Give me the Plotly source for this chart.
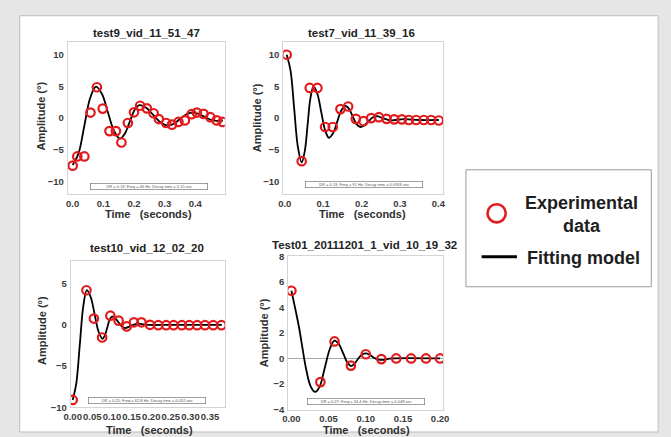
import plotly.graph_objects as go

W, H = 671, 437

# ---- test9_vid_11_51_47 ----
t9_time = [0.0, 0.015, 0.038, 0.058, 0.079, 0.098, 0.12, 0.141, 0.159, 0.18, 0.2, 0.22,
           0.242, 0.264, 0.281, 0.305, 0.324, 0.345, 0.366, 0.388, 0.405, 0.427, 0.449,
           0.47, 0.489]
t9_amp = [-7.5, -6.05, -6.05, 0.87, 4.87, 1.5, -2.05, -2.05, -3.85, -0.77, 0.92, 1.95,
          1.54, 0.77, -0.15, -0.77, -1.03, -0.6, -0.36, 0.62, 0.87, 0.67, 0.15, -0.36, -0.6]
t9_fit_time = [0.0, 0.019, 0.038, 0.057, 0.076, 0.096, 0.115, 0.135, 0.154, 0.17, 0.186,
               0.202, 0.218, 0.241, 0.264, 0.287, 0.31, 0.33, 0.35, 0.37, 0.39, 0.41, 0.43,
               0.45, 0.47, 0.49]
t9_fit_amp = [-7.4, -5.57, -1.2, 3.17, 4.97, 3.77, 0.87, -2.03, -3.23, -2.46, -0.59, 1.28,
              2.05, 1.58, 0.43, -0.71, -1.18, -0.88, -0.15, 0.57, 0.87, 0.68, 0.21, -0.26,
              -0.45, -0.38]

# ---- test7_vid_11_39_16 ----
t7_time = [0.005, 0.044, 0.065, 0.085, 0.105, 0.125, 0.145, 0.165, 0.185, 0.205, 0.225,
           0.245, 0.265, 0.285, 0.305, 0.323, 0.342, 0.362, 0.381, 0.401]
t7_amp = [10.0, -6.8, 4.76, 4.76, -1.4, -1.4, 1.42, 1.83, -0.12, -0.48, 0.0, 0.15, -0.12,
          -0.2, -0.2, -0.3, -0.3, -0.3, -0.3, -0.38]
t7_fit_time = [0.005, 0.015, 0.0245, 0.034, 0.044, 0.052, 0.0595, 0.067, 0.075, 0.085,
               0.095, 0.105, 0.115, 0.126, 0.1365, 0.147, 0.158, 0.1675, 0.177, 0.1865,
               0.196, 0.207, 0.2175, 0.228, 0.239, 0.257, 0.275, 0.31, 0.35, 0.401]
t7_fit_amp = [10.0, 7.5, 1.5, -4.5, -7.0, -5.24, -1.0, 3.24, 5.0, 3.81, 0.95, -1.91, -3.1,
              -2.36, -0.59, 1.19, 1.93, 1.44, 0.27, -0.91, -1.4, -1.15, -0.55, 0.05, 0.3,
              -0.05, -0.35, -0.15, -0.3, -0.3]

# ---- test10_vid_12_02_20 ----
t10_time = [0.0, 0.035, 0.054, 0.075, 0.096, 0.117, 0.1375, 0.156, 0.175, 0.197, 0.218,
            0.238, 0.257, 0.278, 0.297, 0.317, 0.337, 0.358, 0.379]
t10_amp = [-9.1, 4.18, 0.75, -1.54, 1.1, 0.5, -0.2, 0.3, 0.3, 0.0, -0.05, -0.05, -0.05,
           -0.05, -0.05, -0.05, -0.05, -0.05, -0.05]
t10_fit_time = [0.0, 0.009, 0.018, 0.027, 0.036, 0.046, 0.056, 0.066, 0.076, 0.082, 0.088,
                0.094, 0.1, 0.108, 0.1165, 0.125, 0.133, 0.148, 0.163, 0.195, 0.25, 0.38]
t10_fit_amp = [-9.1, -7.15, -2.45, 2.25, 4.2, 3.34, 1.25, -0.84, -1.7, -1.3, -0.35, 0.6, 1.0,
               0.8, 0.3, -0.2, -0.4, -0.14, 0.12, -0.02, 0.0, 0.0]

# ---- Test01_20111201_1_vid_10_19_32 ----
t01_time = [0.0, 0.039, 0.058, 0.08, 0.1, 0.121, 0.141, 0.161, 0.181, 0.2]
t01_amp = [5.3, -1.85, 1.33, -0.56, 0.33, -0.05, 0.0, 0.0, 0.0, 0.0]
t01_fit_time = [0.0, 0.01, 0.02, 0.026, 0.032, 0.038, 0.045, 0.052, 0.058, 0.064, 0.07,
                0.075, 0.08, 0.085, 0.09, 0.095, 0.1, 0.105, 0.11, 0.117, 0.125, 0.135, 0.2]
t01_fit_amp = [5.3, 2.5, -0.9, -2.2, -2.62, -2.2, -0.7, 0.8, 1.4, 1.1, 0.35, -0.3, -0.6,
               -0.4, 0.0, 0.3, 0.4, 0.3, 0.1, -0.1, -0.1, 0.0, 0.0]

titles = ["test9_vid_11_51_47", "test7_vid_11_39_16", "test10_vid_12_02_20",
          "Test01_20111201_1_vid_10_19_32"]
fit_notes = ["DR = 0.13; Freq = 46 Hz; Decay time = 0.15 sec",
             "DR = 0.13; Freq = 91 Hz; Decay time = 0.0918 sec",
             "DR = 0.25; Freq = 62.8 Hz; Decay time = 0.052 sec",
             "DR = 0.27; Freq = 34.4 Hz; Decay time = 0.048 sec"]
legend_labels = ["Experimental<br>data", "Fitting model"]

RED = "#e31a1c"
FONT = "Liberation Sans"


def fx(px):
    return px / W


def fy(py):
    return 1 - py / H


# plot-area boxes in pixels: (left, right, top, bottom)
panels = [
    dict(box=(62, 222, 37, 193), xr=[-0.016, 0.496], yr=[-12, 12], xt=[0, 0.1, 0.2, 0.3, 0.4],
         xfmt=".1f", yt=[-10, -5, 0, 5, 10], zero=False,
         data=(t9_time, t9_amp, t9_fit_time, t9_fit_amp),
         title=(142.7, 28), xtitle=(144, 213), ytitle=(35, 113), note=(145, 185)),
    dict(box=(281.7, 445, 37, 193), xr=[-0.004, 0.413], yr=[-12, 12], xt=[0, 0.1, 0.2, 0.3, 0.4],
         xfmt=".1f", yt=[-10, -5, 0, 5, 10], zero=False,
         data=(t7_time, t7_amp, t7_fit_time, t7_fit_amp),
         title=(361.7, 28), xtitle=(363, 213), ytitle=(255, 115), note=(364.5, 183.5)),
    dict(box=(65, 222.7, 261.8, 411.7), xr=[-0.005, 0.389], yr=[-10, 7.7],
         xt=[0, 0.05, 0.1, 0.15, 0.2, 0.25, 0.3, 0.35], xfmt=".2f", yt=[-10, -5, 0, 5], zero=False,
         data=(t10_time, t10_amp, t10_fit_time, t10_fit_amp),
         title=(142.5, 248), xtitle=(145, 435), ytitle=(35, 333), note=(143, 405)),
    dict(box=(286.7, 445, 256.7, 414), xr=[-0.0044, 0.2044], yr=[-4, 8],
         xt=[0, 0.05, 0.1, 0.15, 0.2], xfmt=".2f", yt=[-4, -2, 0, 2, 4, 6, 8], zero=True,
         data=(t01_time, t01_amp, t01_fit_time, t01_fit_amp),
         title=(365, 245), xtitle=(367, 435), ytitle=(261.7, 335), note=(366, 406)),
]

fig = go.Figure()
annotations = []
shapes = [
    # white sheet on a grey page
    dict(type="rect", xref="paper", yref="paper", x0=fx(13), x1=fx(664), y0=fy(437), y1=fy(10),
         fillcolor="white", line=dict(color="#bdbdbd", width=1), layer="below"),
]
layout_axes = {}

for i, p in enumerate(panels):
    n = i + 1
    xa = "x" if n == 1 else f"x{n}"
    ya = "y" if n == 1 else f"y{n}"
    l, r, t, b = p["box"]
    tx, ty, ftx, fty = p["data"]

    fig.add_trace(go.Scatter(x=ftx, y=fty, mode="lines", line=dict(color="black", width=1.8,
                                                                    shape="spline", smoothing=1.0),
                             xaxis=xa, yaxis=ya, showlegend=False, hoverinfo="skip"))
    fig.add_trace(go.Scatter(x=tx, y=ty, mode="markers",
                             marker=dict(symbol="circle-open", size=8.5, color=RED,
                                         line=dict(width=2.2, color=RED)),
                             xaxis=xa, yaxis=ya, showlegend=False))

    tick_font = dict(family=FONT, size=9.5, color="#3a3a3a", weight="bold")
    layout_axes["xaxis" if n == 1 else f"xaxis{n}"] = dict(
        domain=[fx(l), fx(r)], anchor=ya, range=p["xr"], tickvals=p["xt"], tickformat=p["xfmt"],
        tickangle=0, showgrid=False, zeroline=False, showline=True, mirror=True,
        linecolor="#d4d4d4", linewidth=1, ticks="", tickfont=tick_font, ticklabelstandoff=0)
    layout_axes["yaxis" if n == 1 else f"yaxis{n}"] = dict(
        domain=[fy(b), fy(t)], anchor=xa, range=p["yr"], tickvals=p["yt"],
        showgrid=False, zeroline=p["zero"], zerolinecolor="#a8a8a8", zerolinewidth=0.8,
        showline=True, mirror=True, linecolor="#d4d4d4", linewidth=1, ticks="",
        tickfont=tick_font, ticklabelstandoff=1)

    annotations.append(dict(x=fx(p["title"][0]), y=fy(p["title"][1]), xref="paper", yref="paper",
                            text=titles[i], showarrow=False, xanchor="center", yanchor="middle",
                            font=dict(family=FONT, size=11.5, color="#222", weight="bold")))
    annotations.append(dict(x=fx(p["xtitle"][0]), y=fy(p["xtitle"][1]), xref="paper",
                            yref="paper", text="Time&nbsp;&nbsp;&nbsp;(seconds)", showarrow=False,
                            xanchor="center", yanchor="middle",
                            font=dict(family=FONT, size=11, color="#2f2f2f", weight="bold")))
    annotations.append(dict(x=fx(p["ytitle"][0]), y=fy(p["ytitle"][1]), xref="paper",
                            yref="paper", text="Amplitude (°)", showarrow=False, textangle=-90,
                            xanchor="center", yanchor="middle",
                            font=dict(family=FONT, size=11, color="#2f2f2f", weight="bold")))
    annotations.append(dict(x=fx(p["note"][0]), y=fy(p["note"][1]), xref="paper", yref="paper",
                            text=fit_notes[i], showarrow=False, xanchor="center",
                            yanchor="middle", width=116, height=5,
                            font=dict(family=FONT, size=4, color="#555"),
                            bgcolor="white", bordercolor="#777", borderwidth=0.7, borderpad=0.5))

# legend panel
shapes += [
    dict(type="rect", xref="paper", yref="paper", x0=fx(468), x1=fx(657), y0=fy(288), y1=fy(168),
         fillcolor="white", line=dict(color="#9a9a9a", width=1)),
    dict(type="circle", xref="paper", yref="paper", x0=fx(490), x1=fx(508.6), y0=fy(222),
         y1=fy(203.4), line=dict(color=RED, width=2.6)),
    dict(type="line", xref="paper", yref="paper", x0=fx(484), x1=fx(520), y0=fy(257.3),
         y1=fy(257.3), line=dict(color="black", width=3)),
]
legend_font = dict(family=FONT, size=18, color="#1e1e1e", weight="bold")
annotations.append(dict(x=fx(586), y=fy(213.5), xref="paper", yref="paper",
                        text=legend_labels[0], showarrow=False, xanchor="center",
                        yanchor="middle", align="center", font=legend_font))
annotations.append(dict(x=fx(588), y=fy(258), xref="paper", yref="paper",
                        text=legend_labels[1], showarrow=False, xanchor="center",
                        yanchor="middle", font=legend_font))

fig.update_layout(
    width=W, height=H, margin=dict(l=0, r=0, t=0, b=0),
    paper_bgcolor="#e6e6e6", plot_bgcolor="white",
    shapes=shapes, annotations=annotations, showlegend=False,
    **layout_axes,
)

fig.write_html("out.html")
